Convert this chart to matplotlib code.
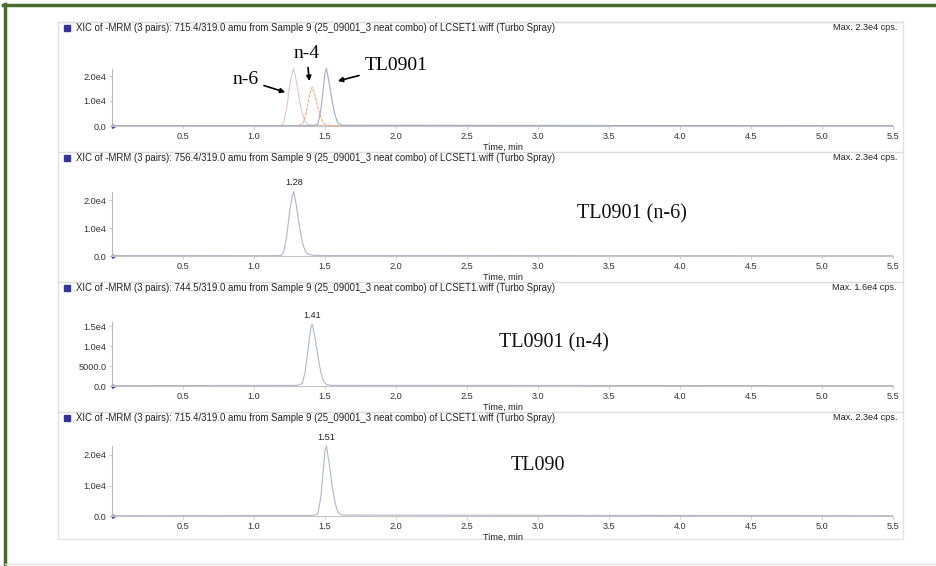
import matplotlib
matplotlib.use("Agg")
from matplotlib import pyplot as plt
from matplotlib.patches import Rectangle

# chromatogram traces (time in min, intensity in cps)
t_n6 = [0.0, 1.15, 1.19, 1.21, 1.23, 1.25, 1.27, 1.28, 1.30, 1.32, 1.34, 1.36, 1.38, 1.42, 1.50, 5.5]
i_n6 = [150, 120, 200, 1500, 7000, 15500, 21500, 23000, 17500, 10500, 5000, 1800, 600, 250, 150, 100]

t_n4 = [0.0, 1.30, 1.34, 1.36, 1.38, 1.40, 1.41, 1.43, 1.45, 1.47, 1.49, 1.51, 1.55, 5.5]
i_n4 = [100, 150, 600, 3500, 9000, 14500, 15500, 12000, 7500, 3500, 1200, 400, 150, 100]

t_tl = [0.0, 1.42, 1.45, 1.47, 1.49, 1.50, 1.51, 1.53, 1.55, 1.57, 1.59, 1.62, 5.5]
i_tl = [100, 150, 800, 6000, 16000, 21500, 23000, 17000, 10000, 4500, 1200, 300, 100]

transitions = ["715.4/319.0", "756.4/319.0", "744.5/319.0", "715.4/319.0"]
max_cps = ["Max. 2.3e4 cps.", "Max. 2.3e4 cps.", "Max. 1.6e4 cps.", "Max. 2.3e4 cps."]
y_ticks = [[0, 10000, 20000], [0, 10000, 20000], [0, 5000, 10000, 15000], [0, 10000, 20000]]
y_ticklabels = [["0.0", "1.0e4", "2.0e4"], ["0.0", "1.0e4", "2.0e4"],
                ["0.0", "5000.0", "1.0e4", "1.5e4"], ["0.0", "1.0e4", "2.0e4"]]
y_max = [23000, 23000, 16000, 23000]
x_ticks = [0.5, 1.0, 1.5, 2.0, 2.5, 3.0, 3.5, 4.0, 4.5, 5.0, 5.5]
peak_labels = [None, "1.28", "1.41", "1.51"]
big_labels = [None, "TL0901 (n-6)", "TL0901 (n-4)", "TL090"]

W, H = 936, 566


def fx(x):
    return x / W


def fy(y):
    return 1 - y / H


fig = plt.figure(figsize=(W / 100, H / 100), dpi=100)
fig.patch.set_facecolor("white")

# green frame (top and left) and light bottom rule
fig.add_artist(plt.Line2D([fx(3), fx(936)], [fy(5), fy(5)], color="#4b6b2e", lw=2.5))
fig.add_artist(plt.Line2D([fx(5), fx(5)], [fy(4), fy(566)], color="#4b6b2e", lw=2.5))
fig.add_artist(plt.Line2D([fx(5), fx(936)], [fy(564), fy(564)], color="#e4e4e4", lw=1))
# light outer box of the chromatogram window
fig.add_artist(Rectangle((fx(58), fy(539)), fx(903) - fx(58), fy(22) - fy(539),
                         fill=False, edgecolor="#e2e2e2", lw=1))

sans = "Liberation Sans"
serif = "Liberation Serif"
small = 6.6
px_per_1e4 = [25, 28, 40, 30.5]
trace_color = "#b3b6c8"

axes = []
for k in range(4):
    hy = 28 + 130 * k          # header text centre (pixels from top)
    bottom = hy + 98
    top = hy + 18
    ax = fig.add_axes([fx(112), fy(bottom), fx(893) - fx(112), fy(top) - fy(bottom)])
    axes.append(ax)
    ax.set_xlim(0, 5.5)
    ax.set_ylim(0, (bottom - top) / px_per_1e4[k] * 1e4)
    ax.patch.set_alpha(0)
    for s in ["top", "right"]:
        ax.spines[s].set_visible(False)
    ax.spines["left"].set_bounds(0, y_max[k])
    ax.spines["left"].set_color("#b8b8b8")
    ax.spines["bottom"].set_color("#c4c4c4")
    ax.spines["left"].set_linewidth(0.8)
    ax.spines["bottom"].set_linewidth(0.8)
    ax.set_xticks(x_ticks)
    ax.set_xticklabels([f"{v:.1f}" for v in x_ticks], fontsize=small, family=sans, color="#333333")
    ax.set_yticks(y_ticks[k])
    ax.set_yticklabels(y_ticklabels[k], fontsize=small, family=sans, color="#333333")
    ax.tick_params(axis="both", length=2, width=0.5, color="#b8b8b8", pad=2)
    ax.plot(0.01, 0, marker=(3, 0, 30), color="#3a3aa8", ms=3, clip_on=False)

    # header line and texts
    fig.add_artist(plt.Line2D([fx(58), fx(903)], [fy(hy - 6), fy(hy - 6)], color="#dcdcdc", lw=1))
    fig.add_artist(Rectangle((fx(64), fy(hy + 3)), 6 / W, 6 / H, color="#333399"))
    fig.text(fx(76), fy(hy), f"XIC of -MRM (3 pairs): {transitions[k]} amu from Sample 9 (25_09001_3 neat combo)"
             " of LCSET1.wiff (Turbo Spray)", fontsize=6.9, family=sans, va="center", color="#222222")
    fig.text(fx(897), fy(hy), max_cps[k], fontsize=small, family=sans, va="center", ha="right", color="#222222")
    fig.text(fx(483), fy(hy + 119), "Time, min", fontsize=small, family=sans, va="center", color="#222222")

# panel 1: overlay of the three transitions
ax = axes[0]
ax.plot(t_n6, i_n6, color="#dcc8c8", lw=0.8)
ax.plot(t_n4, i_n4, color="#f2ac88", lw=0.8, ls=(0, (3, 1)))
ax.plot(t_tl, i_tl, color="#a4a9c6", lw=0.8)
arrow = dict(arrowstyle="-|>", color="black", lw=1.2, mutation_scale=7, shrinkA=2, shrinkB=0)
ax.annotate("n-6", xy=(1.22, 13500), xytext=(0.94, 18500), fontsize=14, family=serif,
            ha="center", va="center", arrowprops=arrow, annotation_clip=False)
ax.annotate("n-4", xy=(1.39, 18000), xytext=(1.37, 29000), fontsize=14, family=serif,
            ha="center", va="center", arrowprops=arrow, annotation_clip=False)
ax.annotate("TL0901", xy=(1.59, 18000), xytext=(2.0, 24000), fontsize=14, family=serif,
            ha="center", va="center", arrowprops=arrow, annotation_clip=False)

# panels 2-4: individual transitions
singles = [(t_n6, i_n6), (t_n4, i_n4), (t_tl, i_tl)]
big_pos = [(3.66, 214), (3.11, 343), (3.0, 465)]
for k, (t, i) in enumerate(singles, start=1):
    ax = axes[k]
    ax.plot(t, i, color=trace_color, lw=0.8)
    j = i.index(max(i))
    ax.annotate(peak_labels[k], xy=(t[j], i[j]), xytext=(0, 3), textcoords="offset points",
                fontsize=small, family=sans, ha="center", va="bottom", color="#222222",
                annotation_clip=False)
    bx, by = big_pos[k - 1]
    fig.text(fx(112 + bx * 142), fy(by), big_labels[k], fontsize=14.5, family=serif,
             ha="center", va="center", color="#111111")

fig.savefig("out.png", dpi=100)
